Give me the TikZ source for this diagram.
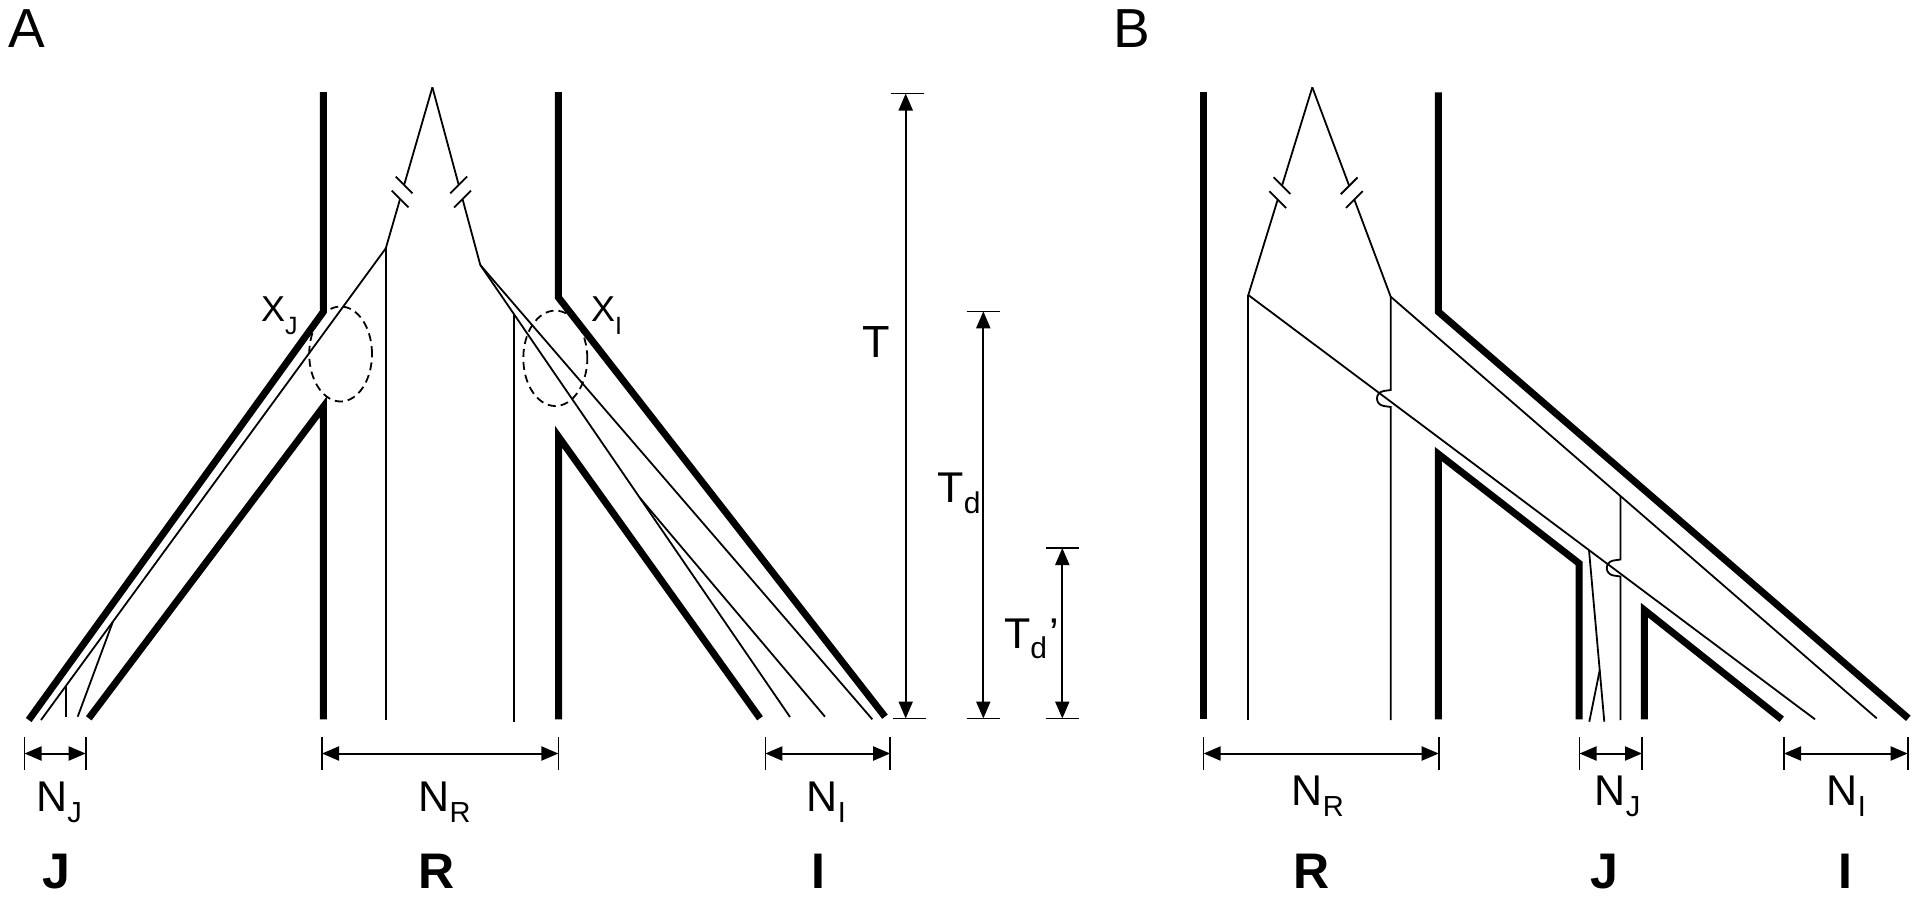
\documentclass[tikz,border=0pt]{standalone}
\usepackage{fontspec}
\setmainfont{Liberation Sans}
\usetikzlibrary{arrows.meta,calc}
\newcommand{\mylab}[5]{{\fontsize{#3}{#3}\selectfont #1}\raisebox{-#5}{\fontsize{#4}{#4}\selectfont #2}}
\begin{document}
\begin{tikzpicture}[x=1pt,y=-1pt,line cap=butt,
  wall/.style={line width=7pt,line join=miter},
  lin/.style={line width=1.8pt},
  oval/.style={line width=1.8pt,dash pattern=on 8pt off 5pt},
  dimline/.style={line width=2pt,{Triangle[length=17pt,width=14pt]}-{Triangle[length=17pt,width=14pt]}},
  dimtick/.style={line width=1.6pt},
  lbl/.style={inner sep=0pt,anchor=base west},
  big/.style={inner sep=0pt,anchor=base,font=\fontsize{50pt}{50pt}\selectfont\bfseries}]
\path[use as bounding box] (0,0) rectangle (1920,898);

% ---------------- panel letters
\node[lbl] (pa) at (8,47.3) {\fontsize{55pt}{55pt}\selectfont A};
\node[lbl] (pb) at (1113,47.3) {\fontsize{55pt}{55pt}\selectfont B};

% ================= PANEL A =================
% thick walls
\coordinate (aRLt) at (323.4,92);   \coordinate (aRLk) at (323.4,311.7); \coordinate (aJo) at (28.7,720);
\coordinate (aJi) at (88.8,718.3);  \coordinate (aRLm) at (323.4,406.7); \coordinate (aRLb) at (323.4,719.3);
\coordinate (aILt) at (558.3,92);   \coordinate (aILk) at (558.3,297.3); \coordinate (aIo) at (885,716.7);
\coordinate (aIi) at (760,718.3);   \coordinate (aILm) at (558.5,436.7); \coordinate (aILb) at (558.5,719.3);
\draw[wall] (aRLt) -- (aRLk) -- (aJo);
\draw[wall] (aJi) -- (aRLm) -- (aRLb);
\draw[wall] (aILt) -- (aILk) -- (aIo);
\draw[wall] (aIi) -- (aILm) -- (aILb);

% gene tree
\coordinate (aP) at (432.4,87.3);
\coordinate (aL) at (385.8,248.3);
\coordinate (aR) at (480.3,265);
% broken branches
\coordinate (aCl) at ($(aP)!0.650!(aL)$);
\coordinate (aUl) at ($(aCl)!7.3pt!(aP)$); \coordinate (aDl) at ($(aCl)!7.3pt!(aL)$);
\draw[lin] (aP) -- (aUl); \draw[lin] (aDl) -- (aL);
\draw[lin] ($(aUl)+(-8.4,-8.4)$) -- ($(aUl)+(8.4,8.4)$);
\draw[lin] ($(aDl)+(-8.4,-8.4)$) -- ($(aDl)+(8.4,8.4)$);
\coordinate (aCr) at ($(aP)!0.589!(aR)$);
\coordinate (aUr) at ($(aCr)!7.3pt!(aP)$); \coordinate (aDr) at ($(aCr)!7.3pt!(aR)$);
\draw[lin] (aP) -- (aUr); \draw[lin] (aDr) -- (aR);
\draw[lin] ($(aUr)+(-8.4,8.4)$) -- ($(aUr)+(8.4,-8.4)$);
\draw[lin] ($(aDr)+(-8.4,8.4)$) -- ($(aDr)+(8.4,-8.4)$);
% left subtree
\coordinate (aLv) at (385.8,720);
\coordinate (aLd) at (41,720);
\coordinate (aB1) at ($(aL)!0.7916!(aLd)$);
\coordinate (aB1e) at (77.7,716.7);
\coordinate (aV1) at ($(aL)!0.927!(aLd)$);
\draw[lin] (aL) -- (aLv);
\draw[lin] (aL) -- (aLd);
\draw[lin] (aB1) -- (aB1e);
\draw[lin] (aV1) -- (aV1 |- aB1e);
% right subtree
\coordinate (aRd1) at (872.3,719.3);
\coordinate (aRd2) at (790,717);
\coordinate (aB2) at ($(aR)!0.515!(aRd2)$);
\coordinate (aB2e) at (825,716.7);
\coordinate (aV2) at ($(aR)!0.1098!(aRd2)$);
\coordinate (aV2e) at (514.3,722);
\draw[lin] (aR) -- (aRd1);
\draw[lin] (aR) -- (aRd2);
\draw[lin] (aB2) -- (aB2e);
\draw[lin] (aV2) -- (aV2 |- aV2e);

% dashed ovals
\draw[oval] (340.6,354) ellipse [x radius=31.4pt, y radius=47.5pt];
\draw[oval] (555.3,358.3) ellipse [x radius=32pt, y radius=47.7pt];
\node[lbl] (xj) at (261,321.7) {\mylab{X}{J}{36pt}{25pt}{13pt}};
\node[lbl] (xi) at (591,321.7) {\mylab{X}{I}{36pt}{25pt}{13pt}};

% time dimensions
\coordinate (tT) at (905.7,93.5);  \coordinate (tB) at (905.7,718.5);
\draw[dimtick] (890.7,93.5) -- (924.3,93.5);
\draw[dimtick] (893,718.5) -- (926,718.5);
\draw[dimline] (tB) -- (tT);
\node[lbl] (lT) at (862,357) {\fontsize{45pt}{45pt}\selectfont T};

\coordinate (dT) at (983.3,311.3);  \coordinate (dB) at (983.3,718.5);
\draw[dimtick] (966.7,311.3) -- (1000,311.3);
\draw[dimtick] (966.7,718.5) -- (1000,718.5);
\draw[dimline] (dB) -- (dT);
\node[lbl] (lTd) at (937.5,502) {\mylab{T}{d}{43pt}{30pt}{11pt}};

\coordinate (eT) at (1062.3,548);  \coordinate (eB) at (1062.3,718.5);
\draw[dimtick] (1045.7,548) -- (1079,548);
\draw[dimtick] (1045.7,718.5) -- (1079,718.5);
\draw[dimline] (eB) -- (eT);
\node[lbl] (lTdp) at (1004,648) {\mylab{T}{d}{43pt}{30pt}{10pt}{\fontsize{43pt}{43pt}\selectfont\kern2pt’}};

% population size dimensions (panel A)
\foreach \xa/\xb/\nm in {24.5/85.7/aNJ, 322/558.4/aNR, 765.3/890.2/aNI}{
  \draw[dimtick] (\xa,737) -- (\xa,770);
  \draw[dimtick] (\xb,737) -- (\xb,770);
  \coordinate (\nm l) at (\xa,753.5); \coordinate (\nm r) at (\xb,753.5);
  \draw[dimline] (\nm l) -- (\nm r);
}
\node[lbl] (nja) at (36,811) {\mylab{N}{J}{43pt}{29pt}{11pt}};
\node[lbl] (nra) at (418.4,811) {\mylab{N}{R}{43pt}{29pt}{11pt}};
\node[lbl] (nia) at (806.7,811) {\mylab{N}{I}{43pt}{29pt}{11pt}};
\node[big] (ja) at (56,888) {J};
\node[big] (ra) at (436.5,888) {R};
\node[big] (ia) at (818.5,888) {I};

% ================= PANEL B =================
\coordinate (bRLt) at (1203.3,92.3); \coordinate (bRLb) at (1203.3,719.3);
\coordinate (bRRt) at (1438.3,92.3); \coordinate (bRRk) at (1438.3,311.7); \coordinate (bIo) at (1908.3,718.3);
\coordinate (bMb) at (1438.3,719.3); \coordinate (bMt) at (1438.3,454); \coordinate (bMk) at (1579,563.3); \coordinate (bMe) at (1579,719.3);
\coordinate (bJb) at (1644.3,719.3); \coordinate (bJt) at (1644.3,610); \coordinate (bJe) at (1781.7,719.3);
\draw[wall] (bRLt) -- (bRLb);
\draw[wall] (bRRt) -- (bRRk) -- (bIo);
\draw[wall] (bMb) -- (bMt) -- (bMk) -- (bMe);
\draw[wall] (bJb) -- (bJt) -- (bJe);

\coordinate (bP) at (1312.3,87.3);
\coordinate (bL) at (1248.3,295);
\coordinate (bR) at (1390.7,296.7);
\coordinate (bCl) at ($(bP)!0.507!(bL)$);
\coordinate (bUl) at ($(bCl)!7.3pt!(bP)$); \coordinate (bDl) at ($(bCl)!7.3pt!(bL)$);
\draw[lin] (bP) -- (bUl); \draw[lin] (bDl) -- (bL);
\draw[lin] ($(bUl)+(-8.4,-8.4)$) -- ($(bUl)+(8.4,8.4)$);
\draw[lin] ($(bDl)+(-8.4,-8.4)$) -- ($(bDl)+(8.4,8.4)$);
\coordinate (bCr) at ($(bP)!0.503!(bR)$);
\coordinate (bUr) at ($(bCr)!7.3pt!(bP)$); \coordinate (bDr) at ($(bCr)!7.3pt!(bR)$);
\draw[lin] (bP) -- (bUr); \draw[lin] (bDr) -- (bR);
\draw[lin] ($(bUr)+(-8.4,8.4)$) -- ($(bUr)+(8.4,-8.4)$);
\draw[lin] ($(bDr)+(-8.4,8.4)$) -- ($(bDr)+(8.4,-8.4)$);

\coordinate (bLv) at (1248.3,720);
\coordinate (bLd) at (1815,719.3);
\coordinate (bRd) at (1876.7,718.3);
\draw[lin] (bL) -- (bLv);
\draw[lin] (bL) -- (bLd);
\draw[lin] (bR) -- (bRd);
% vertical from right node with hop
\draw[lin] (bR) -- (1390.7,390) -- (1383.7,391) .. controls (1374.7,392.5) and (1374.7,404.5) .. (1383.7,406) -- (1390.7,407) -- (1390.7,720);
% vertical from right diagonal with hop
\coordinate (bV) at ($(bR)!0.4728!(bRd)$);
\draw[lin] (bV) -- (bV |- 0,559.5) -- ++(-7,1) .. controls ++(-9,1.5) and (1604.5,574) .. (1613.5,575.5) -- (1620.5,576.5) -- (1620.5,720);
% J lineages
\coordinate (bJ) at ($(bL)!0.6012!(bLd)$);
\coordinate (bJe1) at (1604.3,721.7);
\coordinate (bJbr) at ($(bJ)!0.70!(bJe1)$);
\coordinate (bJe2) at (1589.3,721.7);
\draw[lin] (bJ) -- (bJe1);
\draw[lin] (bJbr) -- (bJe2);

% population size dimensions (panel B)
\foreach \xa/\xb/\nm in {1203.6/1438.7/bNR, 1579.5/1642/bNJ, 1784/1907.7/bNI}{
  \draw[dimtick] (\xa,737) -- (\xa,770);
  \draw[dimtick] (\xb,737) -- (\xb,770);
  \coordinate (\nm l) at (\xa,753.5); \coordinate (\nm r) at (\xb,753.5);
  \draw[dimline] (\nm l) -- (\nm r);
}
\node[lbl] (nrb) at (1291.7,805) {\mylab{N}{R}{43pt}{29pt}{11pt}};
\node[lbl] (njb) at (1594.7,805) {\mylab{N}{J}{43pt}{29pt}{11pt}};
\node[lbl] (nib) at (1826.7,805) {\mylab{N}{I}{43pt}{29pt}{11pt}};
\node[big] (rb) at (1312,888) {R};
\node[big] (jb) at (1604,888) {J};
\node[big] (ib) at (1845.5,888) {I};
\end{tikzpicture}
\end{document}
